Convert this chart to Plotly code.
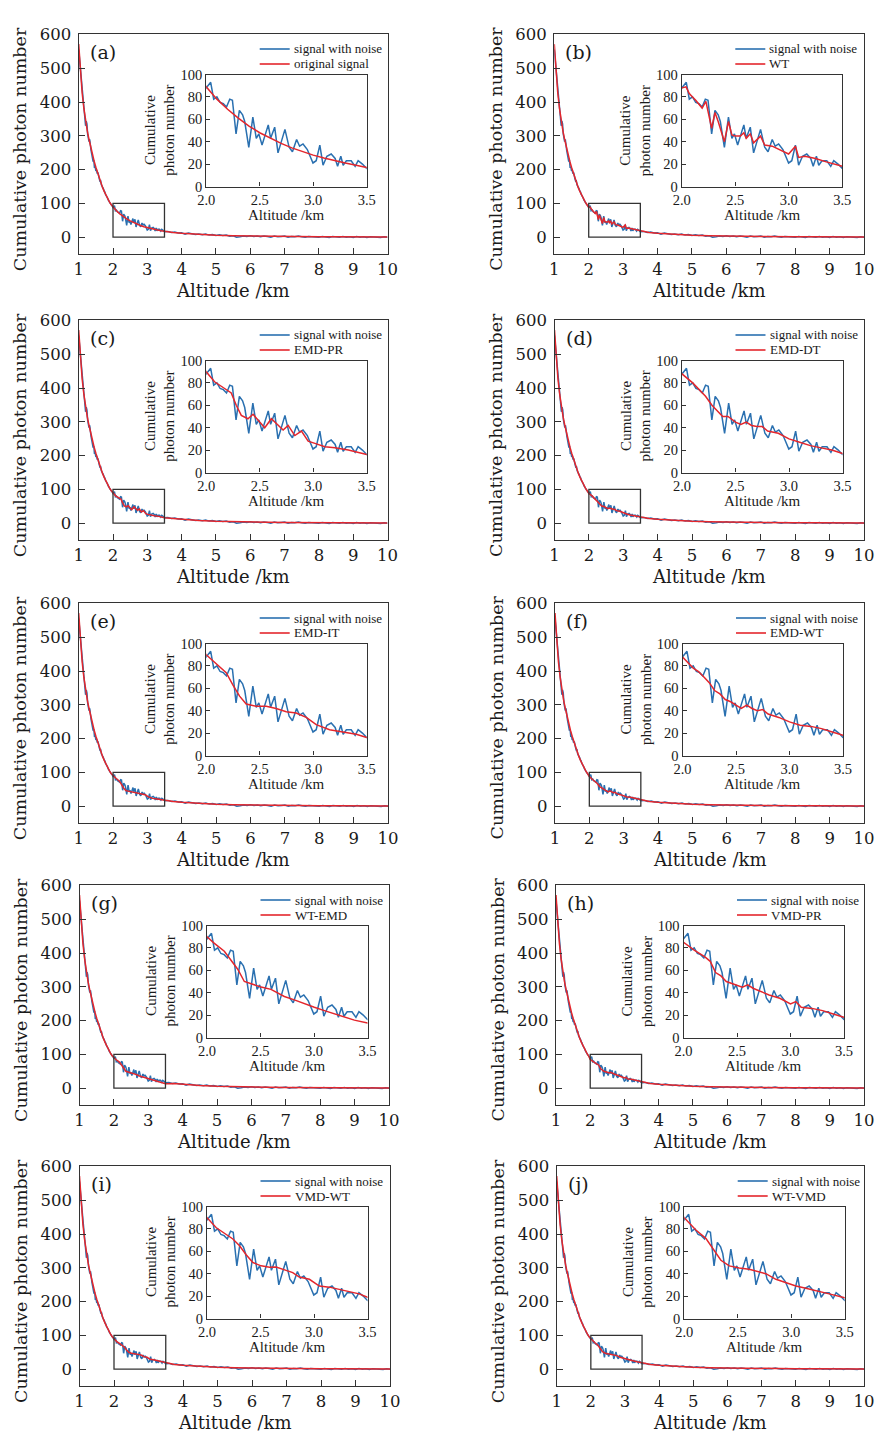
import numpy as np
import plotly.graph_objects as go

W, H = 877, 1432

# Daten: verrauschtes Signal (gemeinsam für alle Panels)
noise_head_alt = [1.00, 1.025, 1.05, 1.075, 1.10, 1.125, 1.15, 1.175, 1.20, 1.22, 1.24, 1.26,
                  1.28, 1.30, 1.32, 1.34, 1.36, 1.38, 1.40, 1.42, 1.44, 1.46, 1.48, 1.50,
                  1.52, 1.54, 1.56, 1.58, 1.60, 1.62, 1.64, 1.66, 1.68, 1.70, 1.72, 1.74,
                  1.76, 1.78, 1.80, 1.82, 1.84, 1.86, 1.88, 1.90, 1.92, 1.94, 1.96, 1.98]
noise_head_val = [556, 528, 497, 468, 438, 400, 378, 352, 330, 344, 336, 306,
                  298, 283, 290, 262, 257, 246, 238, 224, 228, 205, 209, 196,
                  199, 188, 192, 178, 173, 166, 167, 155, 152, 148, 143, 137,
                  134, 127, 124, 118, 116, 110, 108, 104, 100, 98, 95, 92]

noise_zoom_alt = [2.000, 2.042, 2.070, 2.100, 2.130, 2.160, 2.190, 2.220, 2.245, 2.279,
                  2.310, 2.340, 2.360, 2.398, 2.436, 2.468, 2.492, 2.522, 2.548, 2.580,
                  2.602, 2.640, 2.671, 2.700, 2.736, 2.775, 2.806, 2.845, 2.873, 2.905,
                  2.945, 2.998, 3.028, 3.062, 3.092, 3.128, 3.168, 3.205, 3.228, 3.258,
                  3.280, 3.310, 3.355, 3.392, 3.420, 3.460, 3.500]
noise_zoom_val = [88, 93, 78, 80, 75, 74, 71, 78, 77, 47,
                  68, 64, 58, 35, 62, 43, 47, 37, 45, 55,
                  43, 53, 30, 40, 51, 35, 31, 42, 36, 38,
                  33, 21, 23, 37, 19, 27, 29, 25, 18, 27,
                  19, 23, 23, 18, 23, 20, 16]

noise_tail_alt = list(np.round(np.arange(3.6, 10.001, 0.1), 1))
noise_tail_val = [17, 14, 15, 12, 13, 9, 12, 10, 8, 9,
                  7, 9, 6, 8, 5, 7, 5, 6, 3, 4,
                  0, 1, 3, 2, 4, 2, 3, 1, 3, 2,
                  0, 3, 1, 2, 3, 0, 2, 1, 3, 1,
                  0, 2, 1, 2, 0, 2, 1, -1, 2, 1,
                  0, 2, 0, 1, -1, 2, 0, 1, -1, 1,
                  0, 1, -1, 1, 0]

# glatter Verlauf außerhalb des Zoom-Bereichs (gemeinsam für alle Verfahren)
smooth_head_alt = [1.00, 1.05, 1.10, 1.15, 1.20, 1.25, 1.30, 1.35, 1.40, 1.45,
                   1.50, 1.55, 1.60, 1.65, 1.70, 1.75, 1.80, 1.85, 1.90, 1.95]
smooth_head_val = [572, 495, 428, 382, 345, 315, 290, 266, 245, 225,
                   207, 190, 173, 158, 146, 134, 123, 113, 104, 96]
smooth_tail_alt = [3.75, 4.0, 4.5, 5.0, 5.5, 6.0, 6.5, 7.0, 7.5, 8.0, 8.5, 9.0, 9.5, 10.0]
smooth_tail_val = [14, 11.5, 8, 5.5, 4, 3, 2.3, 1.8, 1.4, 1.1, 0.9, 0.7, 0.6, 0.5]

# Verfahren: Werte im Bereich 2.0-3.5 km
labels = ["(a)", "(b)", "(c)", "(d)", "(e)", "(f)", "(g)", "(h)", "(i)", "(j)"]
methods = ["original signal", "WT", "EMD-PR", "EMD-DT", "EMD-IT",
           "EMD-WT", "WT-EMD", "VMD-PR", "VMD-WT", "WT-VMD"]

orig_alt = [2.0, 2.1, 2.2, 2.3, 2.4, 2.5, 2.6, 2.7, 2.8, 2.9, 3.0, 3.1, 3.2, 3.3, 3.4, 3.5]
orig_val = [89, 78, 69, 61, 54, 48, 43, 38.5, 34.5, 31, 28, 25.5, 23, 21, 19, 17]

wt_alt = [2.000, 2.040, 2.070, 2.100, 2.130, 2.190, 2.225, 2.279, 2.310, 2.340, 2.398, 2.436,
          2.468, 2.500, 2.548, 2.580, 2.602, 2.640, 2.671, 2.736, 2.775, 2.845, 2.905, 2.998,
          3.062, 3.092, 3.150, 3.250, 3.350, 3.500]
wt_val = [88, 89, 83, 80, 77, 70, 76, 52, 66, 58, 40, 58,
          46, 45, 45, 48, 43, 47, 39, 45, 37, 36, 33, 29,
          36, 26, 27, 25, 22, 18]

emdpr_alt = [2.0, 2.078, 2.172, 2.234, 2.281, 2.328, 2.39, 2.438, 2.5, 2.547, 2.609,
             2.672, 2.719, 2.766, 2.828, 2.89, 2.953, 3.016, 3.109, 3.203, 3.328, 3.5]
emdpr_val = [90, 81, 75, 71, 60, 51, 48, 52, 45, 40, 48,
             42, 38, 42, 33, 37, 28, 26, 23, 22, 20, 16]

emddt_alt = [2.0, 2.1, 2.17, 2.22, 2.28, 2.33, 2.38, 2.43, 2.5, 2.55, 2.6, 2.65, 2.7, 2.75,
             2.8, 2.9, 3.0, 3.1, 3.2, 3.3, 3.4, 3.5]
emddt_val = [88, 80, 73, 68, 60, 55, 50, 50, 45, 43, 45, 42, 41, 41,
             37, 35, 30, 27, 24, 22, 20, 17]

emdit_alt = [2.0, 2.093, 2.187, 2.249, 2.312, 2.374, 2.467, 2.561, 2.654, 2.748, 2.841,
             2.935, 3.028, 3.153, 3.277, 3.402, 3.5]
emdit_val = [90, 82, 74, 63, 53, 46, 44, 44, 42, 39, 38,
             34, 27.5, 23, 21, 19, 16]

emdwt_alt = [2.0, 2.1, 2.15, 2.2, 2.25, 2.3, 2.35, 2.4, 2.45, 2.5, 2.55, 2.6, 2.65, 2.7,
             2.75, 2.8, 2.9, 3.0, 3.1, 3.2, 3.3, 3.4, 3.5]
emdwt_val = [88, 78, 75, 70, 65, 58, 55, 50, 48, 45, 42, 45, 42, 40,
             41, 37, 34, 30, 27, 26, 24, 21, 18]

wtemd_alt = [2.0, 2.069, 2.162, 2.224, 2.287, 2.349, 2.411, 2.505, 2.598, 2.660, 2.723,
             2.816, 2.910, 3.003, 3.097, 3.19, 3.283, 3.377, 3.5]
wtemd_val = [90, 84, 77, 69, 61, 50, 48, 45, 43, 40, 36.6,
             33.6, 30, 27, 24, 21, 18, 15.5, 13]

vmdpr_alt = [2.0, 2.1, 2.2, 2.25, 2.3, 2.35, 2.4, 2.5, 2.55, 2.6, 2.65, 2.7, 2.8, 2.9,
             3.0, 3.05, 3.1, 3.2, 3.3, 3.4, 3.5]
vmdpr_val = [85, 78, 72, 68, 58, 55, 50, 47, 45, 47, 44, 42, 38, 35,
             30, 32, 27, 26, 24, 21, 18]

vmdwt_alt = [2.0, 2.087, 2.18, 2.242, 2.304, 2.366, 2.429, 2.506, 2.584, 2.646, 2.739,
             2.801, 2.863, 2.957, 3.05, 3.143, 3.236, 3.329, 3.422, 3.5]
vmdwt_val = [90, 81, 75, 71, 65, 57, 50, 47, 45.8, 46, 43,
             41, 37, 35, 29, 28, 26, 24, 22, 19]

wtvmd_alt = [2.0, 2.109, 2.202, 2.265, 2.343, 2.421, 2.514, 2.607, 2.701, 2.763, 2.857,
             2.950, 3.044, 3.137, 3.231, 3.355, 3.5]
wtvmd_val = [90, 79, 71.6, 62.7, 52, 47, 45, 44, 42, 40, 35,
             32, 29, 27, 25, 22, 18.5]

method_alt = [orig_alt, wt_alt, emdpr_alt, emddt_alt, emdit_alt,
              emdwt_alt, wtemd_alt, vmdpr_alt, vmdwt_alt, wtvmd_alt]
method_val = [orig_val, wt_val, emdpr_val, emddt_val, emdit_val,
              emdwt_val, wtemd_val, vmdpr_val, vmdwt_val, wtvmd_val]

zoom_x = [2.0, 3.5]
zoom_y = [0, 100]

# Layout (Pixel)
ROW_TOP = [34, 320, 603, 885, 1166]
COL_LEFT = [[78.7, 78.7, 78.7, 79.5, 79.5], [554.3, 554.5, 555, 556, 556.7]]
COL_RIGHT = [[387.5, 387.5, 388, 389, 390], [864, 864, 864, 864, 864]]
FH = 220
BLUE = "#2a70b0"
RED = "#e4262c"
INK = "#1a1a1a"
SERIF = "DejaVu Serif"
TIMES = "Liberation Serif"

noise_alt = noise_head_alt + noise_zoom_alt + noise_tail_alt
noise_val = noise_head_val + noise_zoom_val + noise_tail_val


def px(x):
    return x / W


def py(y):
    return 1 - y / H


def ax_name(i, kind):
    return kind + "axis" + ("" if i == 1 else str(i))


def ax_ref(i, kind):
    return kind + ("" if i == 1 else str(i))


fig = go.Figure()
layout = {}
annotations = []
shapes = []

for k in range(10):
    row, col = k // 2, k % 2
    fl = COL_LEFT[col][row]
    fr = COL_RIGHT[col][row]
    ft = ROW_TOP[row]
    il, it, iw, ih = fl + 127.5, ft + 40.5, 160.5, 112

    m, ins = 2 * k + 1, 2 * k + 2

    red_alt = smooth_head_alt + method_alt[k] + smooth_tail_alt
    red_val = smooth_head_val + method_val[k] + smooth_tail_val

    for a in (m, ins):
        fig.add_trace(go.Scatter(x=noise_alt, y=noise_val, mode="lines", showlegend=False,
                                 name="signal with noise", line=dict(color=BLUE, width=1.5),
                                 xaxis=ax_ref(a, "x"), yaxis=ax_ref(a, "y")))
        fig.add_trace(go.Scatter(x=red_alt, y=red_val, mode="lines", showlegend=False,
                                 name=methods[k], line=dict(color=RED, width=1.5),
                                 xaxis=ax_ref(a, "x"), yaxis=ax_ref(a, "y")))

    common = dict(showline=True, mirror=True, linecolor="#333", linewidth=1.3,
                  ticks="inside", tickcolor="#333", showgrid=False, zeroline=False,
                  color=INK)
    layout[ax_name(m, "x")] = dict(common, domain=[px(fl), px(fr)], range=[1, 10],
                                   tickvals=list(range(1, 11)), ticklen=6,
                                   tickfont=dict(family=SERIF, size=16.5),
                                   anchor=ax_ref(m, "y"))
    layout[ax_name(m, "y")] = dict(common, domain=[py(ft + FH), py(ft)], range=[-50, 602],
                                   tickvals=list(range(0, 601, 100)), ticklen=6,
                                   tickfont=dict(family=SERIF, size=16.5),
                                   ticklabelstandoff=3, anchor=ax_ref(m, "x"))
    layout[ax_name(ins, "x")] = dict(common, domain=[px(il), px(il + iw)], range=zoom_x,
                                     tickvals=[2.0, 2.5, 3.0, 3.5], tickformat=".1f", ticklen=4,
                                     linewidth=1.2,
                                     tickfont=dict(family=TIMES, size=14.5),
                                     anchor=ax_ref(ins, "y"))
    layout[ax_name(ins, "y")] = dict(common, domain=[py(it + ih), py(it)], range=zoom_y,
                                     tickvals=[0, 20, 40, 60, 80, 100], ticklen=4,
                                     linewidth=1.2,
                                     tickfont=dict(family=TIMES, size=14.5),
                                     anchor=ax_ref(ins, "x"))

    # Rahmen für den vergrößerten Bereich
    shapes.append(dict(type="rect", xref=ax_ref(m, "x"), yref=ax_ref(m, "y"),
                       x0=zoom_x[0], x1=zoom_x[1], y0=zoom_y[0], y1=zoom_y[1],
                       line=dict(color="#333", width=1.3)))

    # Legende (von Hand, enger Zeilenabstand wie im Original)
    for j, (txt, colr) in enumerate([("signal with noise", BLUE), (methods[k], RED)]):
        ly = ft + 15 + 15 * j
        shapes.append(dict(type="line", xref="paper", yref="paper",
                           x0=px(fl + 181), x1=px(fl + 211), y0=py(ly), y1=py(ly),
                           line=dict(color=colr, width=1.6)))
        annotations.append(dict(text=txt, x=px(fl + 213), y=py(ly), xanchor="left",
                                yanchor="middle",
                                font=dict(family=TIMES, size=13, color=INK)))

    annotations += [
        dict(text=labels[k], x=px(fl + 9), y=py(ft + 18), xanchor="left", yanchor="middle",
             font=dict(family=SERIF, size=19, color=INK)),
        dict(text="Cumulative photon number", x=px(fl - 58.5), y=py(ft + 115),
             textangle=-90, xanchor="center", yanchor="middle",
             font=dict(family=SERIF, size=17.5, color=INK)),
        dict(text="Altitude /km", x=px((fl + fr) / 2), y=py(ft + 256),
             xanchor="center", yanchor="middle",
             font=dict(family=SERIF, size=18, color=INK)),
        dict(text="Cumulative<br>photon number", x=px(il - 47), y=py(it + ih / 2),
             textangle=-90, xanchor="center", yanchor="middle",
             font=dict(family=TIMES, size=15, color=INK)),
        dict(text="Altitude /km", x=px(il + iw / 2), y=py(it + ih + 28),
             xanchor="center", yanchor="middle",
             font=dict(family=TIMES, size=15, color=INK)),
    ]

for a in annotations:
    a.update(xref="paper", yref="paper", showarrow=False)

fig.update_layout(width=W, height=H,
                  margin=dict(l=0, r=0, t=0, b=0, pad=0, autoexpand=False),
                  paper_bgcolor="white", plot_bgcolor="white", showlegend=False,
                  annotations=annotations, shapes=shapes, **layout)

# Seitenrand des Browsers entfernen, damit die Grafik bei (0, 0) beginnt
fig.write_html("out.html", config={"displayModeBar": False},
               post_script="document.body.style.margin = '0';")
